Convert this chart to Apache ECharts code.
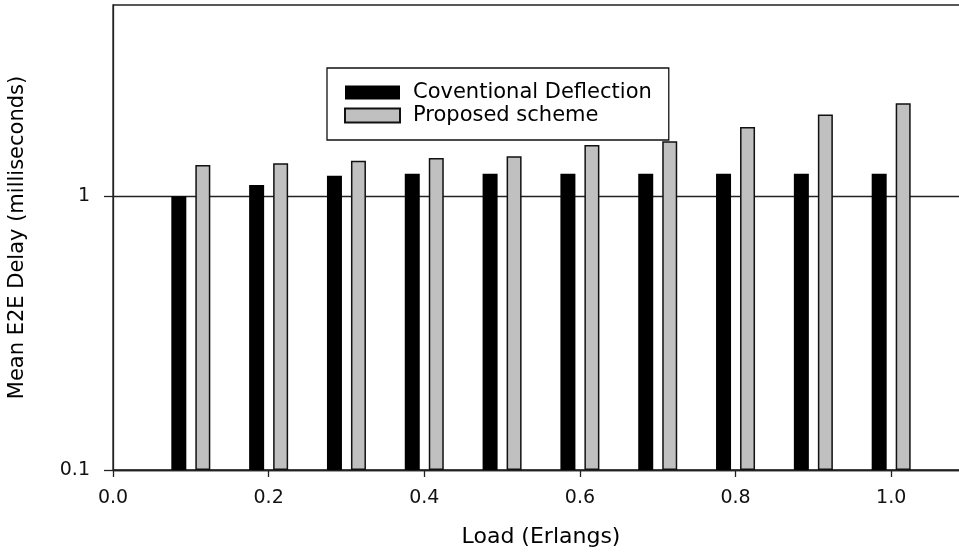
<!DOCTYPE html>
<html>
<head>
<meta charset="utf-8">
<script src="https://cdn.jsdelivr.net/npm/echarts@6/dist/echarts.min.js"></script>
<style>
  html, body { margin: 0; padding: 0; background: #fff; }
  #main { width: 959px; height: 552px; }
</style>
</head>
<body>
<div id="main"></div>
<script>
// load values on the x axis (Erlangs)
var loads = [0.1, 0.2, 0.3, 0.4, 0.5, 0.6, 0.7, 0.8, 0.9, 1.0];
// mean E2E delay, milliseconds
var conventional = [1.0, 1.1, 1.19, 1.21, 1.21, 1.21, 1.21, 1.21, 1.21, 1.21];
var proposed = [1.30, 1.32, 1.35, 1.38, 1.40, 1.54, 1.59, 1.79, 1.99, 2.19];
var yTicks = [0.1, 1];
var seriesNames = ['Coventional Deflection', 'Proposed scheme'];

var chart = echarts.init(document.getElementById('main'));

function pairs(vals) {
    var d = [];
    for (var i = 0; i < loads.length; i++) {
        d.push([loads[i], vals[i]]);
    }
    return d;
}

var font = 'DejaVu Sans';

var option = {
    backgroundColor: '#fff',
    animation: false,
    grid: {
        left: 113,
        right: -10,
        top: 5,
        bottom: 82,
        outerBoundsMode: 'none',
        containLabel: false,
        show: true,
        borderColor: '#222',
        borderWidth: 1.3,
        backgroundColor: '#fff'
    },
    legend: {
        orient: 'vertical',
        left: 327,
        top: 68,
        padding: [14, 17, 14, 17],
        backgroundColor: '#fff',
        borderColor: '#111',
        borderWidth: 1.3,
        borderRadius: 0,
        itemWidth: 55,
        itemHeight: 14,
        itemGap: 2,
        icon: 'rect',
        data: seriesNames,
        textStyle: {
            fontFamily: font,
            fontSize: 21,
            color: '#000',
            padding: [0, 0, 0, 8]
        }
    },
    xAxis: {
        type: 'value',
        min: 0,
        max: 1.1,
        interval: 0.2,
        name: 'Load (Erlangs)',
        nameLocation: 'middle',
        nameGap: 56,
        nameTextStyle: { fontFamily: font, fontSize: 22, color: '#000' },
        axisLine: { show: true, lineStyle: { color: '#222', width: 1.3 } },
        axisTick: { show: true, length: 7, lineStyle: { color: '#222', width: 1.3 } },
        axisLabel: {
            fontFamily: font,
            fontSize: 19,
            color: '#111',
            margin: 19,
            showMaxLabel: false,
            formatter: function (v) { return v.toFixed(1); }
        },
        splitLine: { show: false }
    },
    yAxis: {
        type: 'log',
        logBase: 10,
        min: 0.1,
        max: 5,
        startValue: 0.1,
        name: 'Mean E2E Delay (milliseconds)',
        nameLocation: 'middle',
        nameGap: 85,
        nameTextStyle: { fontFamily: font, fontSize: 21, color: '#000' },
        axisLine: { show: true, lineStyle: { color: '#222', width: 1.3 } },
        axisTick: { show: true, length: 9, customValues: yTicks, lineStyle: { color: '#222', width: 1.3 } },
        axisLabel: {
            fontFamily: font,
            fontSize: 19,
            color: '#111',
            margin: 23,
            customValues: yTicks,
            formatter: function (v) { return String(v); }
        },
        splitLine: { show: true, lineStyle: { color: '#222', width: 1.3 } }
    },
    series: [
        {
            name: seriesNames[0],
            type: 'bar',
            barWidth: 15,
            barGap: '60%',
            itemStyle: { color: '#000' },
            data: pairs(conventional)
        },
        {
            name: seriesNames[1],
            type: 'bar',
            barWidth: 15,
            barGap: '60%',
            itemStyle: { color: '#c0c0c0', borderColor: '#111', borderWidth: 1.5 },
            data: pairs(proposed)
        }
    ]
};

chart.setOption(option);
</script>
</body>
</html>
